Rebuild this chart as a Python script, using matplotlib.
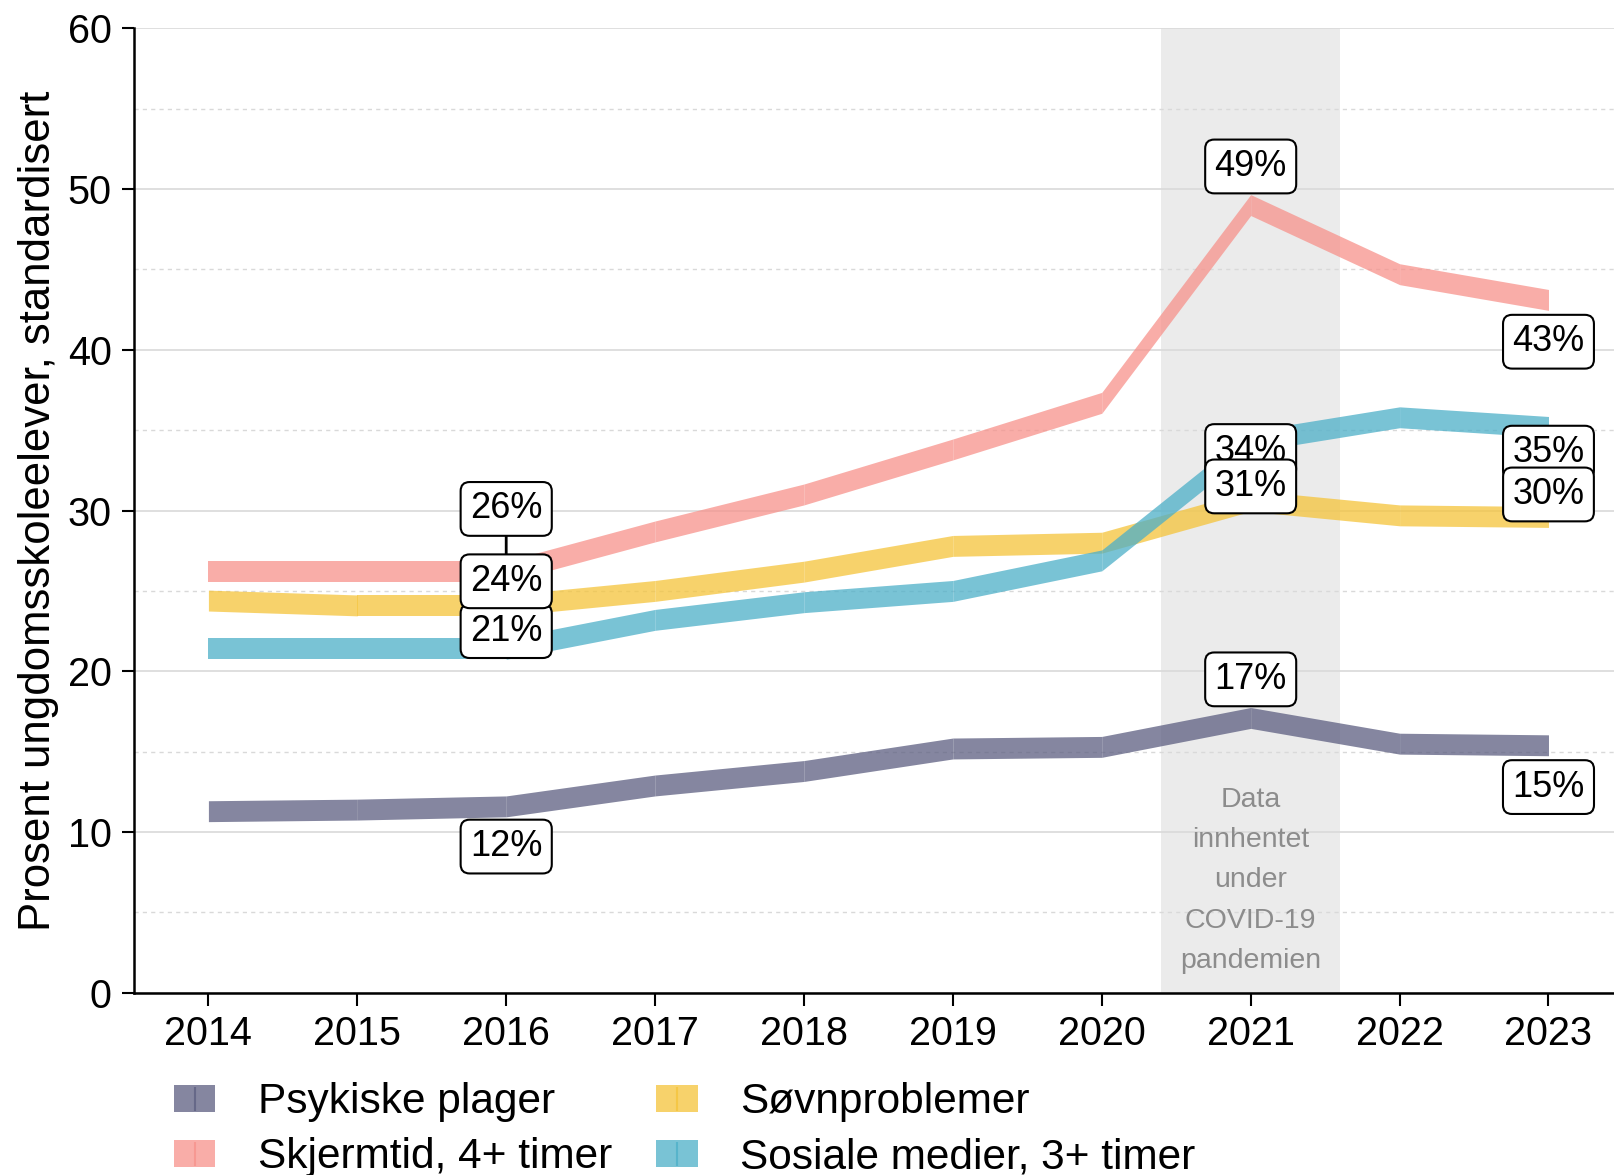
import numpy as np
import matplotlib
matplotlib.use("Agg")
import matplotlib.pyplot as plt
from matplotlib.patches import Patch
from matplotlib.lines import Line2D
from matplotlib.legend_handler import HandlerTuple

plt.rcParams['font.family'] = ['Liberation Sans', 'DejaVu Sans']

years = np.arange(2014, 2024)
series_names = ['Psykiske plager', 'Skjermtid, 4+ timer', 'Søvnproblemer', 'Sosiale medier, 3+ timer']
psykiske = [11.3, 11.4, 11.6, 12.9, 13.8, 15.2, 15.3, 17.1, 15.5, 15.4]
skjermtid = [26.2, 26.2, 26.2, 28.7, 31.0, 33.8, 36.7, 49.0, 44.7, 43.1]
sovn = [24.4, 24.1, 24.1, 25.0, 26.2, 27.8, 28.0, 30.6, 29.7, 29.6]
sosiale = [21.4, 21.4, 21.4, 23.2, 24.3, 25.0, 26.9, 34.3, 35.8, 35.2]
values = [psykiske, skjermtid, sovn, sosiale]
colors = ['#5c5e80', '#f7928b', '#f5c43a', '#4cafc8']

# label years and where the (repelled) boxes sit
label_years = [2016, 2021, 2023]
label_pos = {
    0: [9.1, 19.5, 12.8],
    1: [30.1, 51.4, 40.5],
    2: [25.6, 31.5, 31.0],
    3: [22.5, 33.7, 33.6],
}
label_z = [5, 5, 7, 6]

fig = plt.figure(figsize=(16.14, 11.75), dpi=100)
ax = fig.add_axes([0.083, 0.155, 0.917, 0.821])

ax.axvspan(2020.4, 2021.6, color='#ebebeb', zorder=0, lw=0)
ax.set_axisbelow(True)
ax.set_yticks(np.arange(0, 61, 10))
ax.set_yticks(np.arange(5, 60, 10), minor=True)
ax.grid(axis='y', which='major', color='#d9d9d9', lw=1.2, zorder=0.5)
ax.grid(axis='y', which='minor', color='#d9d9d9', lw=1.0, ls=(0, (3, 3)), zorder=0.5)

half = 0.65
for vals, c in zip(values, colors):
    v = np.array(vals)
    for i in range(len(years) - 1):
        xs = years[i:i + 2]
        ax.fill_between(xs, v[i:i + 2] - half, v[i:i + 2] + half, color=c, alpha=0.75,
                        lw=0, zorder=2)

ax.text(2021, 7.0, 'Data\ninnhentet\nunder\nCOVID-19\npandemien', ha='center', va='center',
        color='#8c8c8c', fontsize=20.5, linespacing=1.72, zorder=1)

box = dict(boxstyle='round,pad=0.26,rounding_size=0.25', fc='white', ec='black', lw=1.5)
for s, vals in enumerate(values):
    for j, yr in enumerate(label_years):
        v = vals[list(years).index(yr)]
        ly = label_pos[s][j]
        txt = f'{v:.0f}%'
        if s == 1 and yr == 2016:
            ax.annotate(txt, xy=(yr, v), xytext=(yr, ly), ha='center', va='center', fontsize=26,
                        bbox=box, zorder=4,
                        arrowprops=dict(arrowstyle='-', color='black', lw=2, shrinkA=0, shrinkB=0))
        else:
            ax.text(yr, ly, txt, ha='center', va='center', fontsize=26, bbox=box, zorder=label_z[s])

ax.set_xlim(2013.5, 2023.44)
ax.set_ylim(0, 60)
ax.set_xticks(years)
ax.tick_params(axis='both', which='major', labelsize=28.5, length=9, width=1.5, direction='out', pad=7)
ax.tick_params(axis='y', which='minor', length=0)
for sp in ['top', 'right']:
    ax.spines[sp].set_visible(False)
for sp in ['left', 'bottom']:
    ax.spines[sp].set_linewidth(1.8)
ax.set_ylabel('Prosent ungdomsskoleelever, standardisert', fontsize=31.5, labelpad=6)

handles = [(Patch(facecolor=c, alpha=0.75, edgecolor='none'),
            Line2D([], [], ls='none', marker='|', markersize=17, mew=1.5, color=c, alpha=0.75))
           for c in colors]
fig.legend(handles, series_names, loc='upper left', bbox_to_anchor=(0.108, 0.079), ncol=2,
           frameon=False, fontsize=30.5, handlelength=0.97, handleheight=0.6, handletextpad=1.0,
           columnspacing=1.05, labelspacing=0.35, borderaxespad=0, borderpad=0,
           handler_map={tuple: HandlerTuple(ndivide=1)})

fig.savefig('out.png', dpi=100)
